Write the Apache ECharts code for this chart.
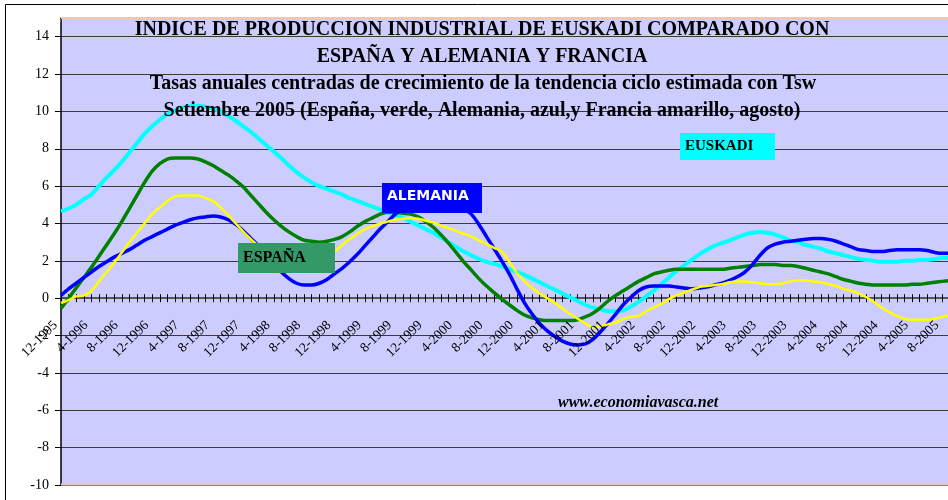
<!DOCTYPE html>
<html><head><meta charset="utf-8">
<script src="https://cdn.jsdelivr.net/npm/echarts@6/dist/echarts.min.js"></script>
<style>html,body{margin:0;padding:0;background:#fff}#c{width:948px;height:500px}</style>
</head><body><div id="c"></div>
<script>
const categories = ["12-1995",
"1-1996","2-1996","3-1996","4-1996","5-1996","6-1996","7-1996","8-1996","9-1996","10-1996","11-1996","12-1996",
"1-1997","2-1997","3-1997","4-1997","5-1997","6-1997","7-1997","8-1997","9-1997","10-1997","11-1997","12-1997",
"1-1998","2-1998","3-1998","4-1998","5-1998","6-1998","7-1998","8-1998","9-1998","10-1998","11-1998","12-1998",
"1-1999","2-1999","3-1999","4-1999","5-1999","6-1999","7-1999","8-1999","9-1999","10-1999","11-1999","12-1999",
"1-2000","2-2000","3-2000","4-2000","5-2000","6-2000","7-2000","8-2000","9-2000","10-2000","11-2000","12-2000",
"1-2001","2-2001","3-2001","4-2001","5-2001","6-2001","7-2001","8-2001","9-2001","10-2001","11-2001","12-2001",
"1-2002","2-2002","3-2002","4-2002","5-2002","6-2002","7-2002","8-2002","9-2002","10-2002","11-2002","12-2002",
"1-2003","2-2003","3-2003","4-2003","5-2003","6-2003","7-2003","8-2003","9-2003","10-2003","11-2003","12-2003",
"1-2004","2-2004","3-2004","4-2004","5-2004","6-2004","7-2004","8-2004","9-2004","10-2004","11-2004","12-2004",
"1-2005","2-2005","3-2005","4-2005","5-2005","6-2005","7-2005","8-2005","9-2005"];

const yTicks = [-10,-8,-6,-4,-2,0,2,4,6,8,10,12,14];
const yMin = -10, yMax = 15, yStep = 2;
const labelEvery = 4;

const euskadi = [4.65,4.8,5.0,5.3,5.55,6.0,6.45,6.85,7.3,7.8,
8.3,8.8,9.2,9.55,9.85,10.05,10.2,10.3,10.3,10.25,
10.15,10.0,9.75,9.5,9.2,8.9,8.55,8.2,7.85,7.5,
7.1,6.75,6.45,6.2,6.0,5.85,5.7,5.55,5.35,5.2,
5.05,4.9,4.75,4.6,4.45,4.3,4.1,3.9,3.7,3.5,
3.25,3.0,2.75,2.5,2.3,2.1,1.95,1.85,1.7,1.55,
1.4,1.25,1.05,0.85,0.65,0.45,0.25,0.05,-0.15,-0.35,
-0.5,-0.6,-0.7,-0.7,-0.65,-0.45,-0.2,0.1,0.4,0.75,
1.1,1.45,1.75,2.05,2.35,2.6,2.8,2.95,3.1,3.25,
3.4,3.5,3.55,3.5,3.4,3.25,3.1,3.0,2.85,2.75,
2.65,2.5,2.4,2.3,2.2,2.1,2.05,2.0,1.95,1.95,
1.95,2.0,2.0,2.05,2.05,2.1,2.15,2.15];

const espana = [-0.55,0.0,0.55,1.1,1.65,2.25,2.85,3.45,4.1,4.8,
5.5,6.2,6.8,7.2,7.45,7.5,7.5,7.5,7.45,7.3,
7.1,6.85,6.6,6.3,5.95,5.5,5.05,4.6,4.2,3.85,
3.55,3.3,3.1,3.05,3.0,3.05,3.15,3.3,3.55,3.85,
4.1,4.3,4.5,4.6,4.6,4.55,4.5,4.35,4.1,3.8,
3.4,2.95,2.45,1.95,1.5,1.05,0.65,0.3,-0.05,-0.35,
-0.65,-0.9,-1.05,-1.15,-1.2,-1.2,-1.2,-1.2,-1.15,-1.0,
-0.8,-0.5,-0.15,0.15,0.4,0.65,0.9,1.1,1.3,1.4,
1.5,1.55,1.55,1.55,1.55,1.55,1.55,1.55,1.6,1.65,
1.7,1.75,1.8,1.8,1.8,1.75,1.75,1.7,1.6,1.5,
1.4,1.3,1.15,1.0,0.9,0.8,0.75,0.7,0.7,0.7,
0.7,0.7,0.75,0.75,0.8,0.85,0.9,0.95];

const alemania = [0.15,0.5,0.8,1.1,1.4,1.7,1.95,2.2,2.4,2.6,
2.85,3.1,3.3,3.5,3.7,3.9,4.05,4.2,4.3,4.35,
4.4,4.35,4.2,3.95,3.6,3.2,2.8,2.3,1.85,1.4,
1.05,0.8,0.7,0.7,0.8,1.0,1.3,1.6,1.95,2.35,
2.8,3.25,3.7,4.1,4.5,4.8,5.0,5.15,5.25,5.3,
5.3,5.2,5.05,4.8,4.5,3.95,3.3,2.65,2.0,1.3,
0.5,-0.25,-0.85,-1.35,-1.75,-2.05,-2.3,-2.45,-2.5,-2.45,
-2.2,-1.8,-1.35,-0.85,-0.35,0.05,0.4,0.6,0.65,0.65,
0.65,0.6,0.55,0.5,0.55,0.6,0.7,0.8,0.95,1.15,
1.4,1.8,2.3,2.7,2.9,3.0,3.05,3.1,3.15,3.2,
3.2,3.15,3.05,2.9,2.75,2.6,2.55,2.5,2.5,2.55,
2.6,2.6,2.6,2.6,2.55,2.45,2.4,2.4];

const francia = [-0.25,-0.1,0.1,0.15,0.4,0.9,1.4,1.9,2.45,3.0,
3.5,4.0,4.5,4.85,5.2,5.45,5.5,5.5,5.5,5.35,
5.2,4.85,4.45,4.0,3.55,3.15,2.8,2.5,2.25,2.05,
1.95,1.9,1.95,2.05,2.2,2.4,2.5,2.85,3.15,3.45,
3.7,3.85,4.0,4.1,4.2,4.25,4.3,4.25,4.15,4.05,
3.9,3.75,3.6,3.45,3.3,3.1,2.9,2.7,2.5,1.95,
1.35,0.9,0.55,0.25,0.0,-0.25,-0.55,-0.85,-1.1,-1.35,
-1.55,-1.5,-1.4,-1.3,-1.1,-1.0,-0.95,-0.7,-0.5,-0.3,
-0.05,0.15,0.3,0.45,0.6,0.65,0.7,0.75,0.85,0.9,
0.9,0.85,0.8,0.75,0.75,0.8,0.9,0.95,0.95,0.9,
0.85,0.75,0.65,0.5,0.4,0.25,0.05,-0.2,-0.5,-0.75,
-0.95,-1.1,-1.15,-1.15,-1.15,-1.1,-1.0,-0.9];

const titleLines = [
  "INDICE DE PRODUCCION INDUSTRIAL DE EUSKADI COMPARADO CON",
  "ESPAÑA Y ALEMANIA Y FRANCIA",
  "Tasas anuales centradas de crecimiento de la tendencia ciclo estimada con Tsw",
  "Setiembre 2005 (España, verde, Alemania, azul,y Francia amarillo, agosto)"
];

const serifFont = "'Liberation Serif','Times New Roman',serif";
const chart = echarts.init(document.getElementById('c'));

// grid geometry (layout only)
const gTop = 18, gBottomPx = 485, H = 500;
const zeroY = gTop + (gBottomPx - gTop) * (yMax - 0) / (yMax - yMin);

function txt(text, x, y, font, fill, z) {
  return {type:'text', z: z || 60, style:{text:text, x:x, y:y, font:font, fill:fill,
    textAlign:'center', textVerticalAlign:'middle', align:'center', verticalAlign:'middle'}};
}

const graphics = [
  {type:'rect', z:100, shape:{x:5.5, y:4.5, width:1000, height:600}, style:{fill:null, stroke:'#000', lineWidth:1}},
  {type:'rect', z:100, shape:{x:44, y:8, width:16.2, height:14}, style:{fill:'#fff'}},
  {type:'line', z:100, shape:{x1:61, y1:18, x2:950, y2:18}, style:{stroke:'#F5C89A', lineWidth:2}},
  {type:'line', z:100, shape:{x1:61, y1:484.5, x2:950, y2:484.5}, style:{stroke:'#E9C2B0', lineWidth:2}},
  txt(titleLines[0], 482, 30, 'bold 20px ' + serifFont, '#000'),
  txt(titleLines[1], 482, 57, 'bold 20px ' + serifFont, '#000'),
  txt(titleLines[2], 483, 84, 'bold 20px ' + serifFont, '#000'),
  txt(titleLines[3], 482, 111, 'bold 20px ' + serifFont, '#000'),
  {type:'rect', z:60, shape:{x:680, y:133, width:95, height:27}, style:{fill:'#00FFFF'}},
  {type:'text', z:61, style:{text:'EUSKADI', x:685, y:146, font:'bold 15px ' + serifFont, fill:'#000', textVerticalAlign:'middle', verticalAlign:'middle'}},
  {type:'rect', z:60, shape:{x:382, y:183, width:100, height:30}, style:{fill:'#0000FF'}},
  {type:'text', z:61, style:{text:'ALEMANIA', x:387, y:196, font:"bold 14px 'DejaVu Sans',Arial,sans-serif", fill:'#fff', textVerticalAlign:'middle', verticalAlign:'middle'}},
  {type:'rect', z:60, shape:{x:238, y:243, width:97, height:30}, style:{fill:'#339966'}},
  {type:'text', z:61, style:{text:'ESPAÑA', x:243, y:258, font:'bold 16px ' + serifFont, fill:'#000', textVerticalAlign:'middle', verticalAlign:'middle'}},
  {type:'text', z:61, style:{text:'www.economiavasca.net', x:558, y:403, font:'italic bold 16px ' + serifFont, fill:'#000', textVerticalAlign:'middle', verticalAlign:'middle'}}
];

function line(name, data, color, width) {
  return {name:name, type:'line', data:data, showSymbol:false, symbol:'none', smooth:0.3,
    lineStyle:{color:color, width:width}, itemStyle:{color:color}, z:3};
}

chart.setOption({
  animation:false,
  backgroundColor:'#fff',
  grid:{left:61, top:gTop, right:-2, bottom:H - gBottomPx, show:true, backgroundColor:'#CCCCFF', borderWidth:0,
        outerBoundsMode:'none', containLabel:false},
  xAxis:[{
    type:'category', data:categories, boundaryGap:false, position:'bottom',
    offset: -(gBottomPx - zeroY),
    axisLine:{show:true, onZero:false, lineStyle:{color:'#555', width:2}},
    axisTick:{show:true, interval:0, length:4, lineStyle:{color:'#000', width:1}},
    axisLabel:{show:false},
    splitLine:{show:false}
  },{
    type:'category', data:categories, boundaryGap:false, position:'top',
    offset: -(zeroY - gTop),
    axisLine:{show:true, onZero:false, lineStyle:{color:'#555', width:2}},
    axisTick:{show:true, interval:0, length:4, lineStyle:{color:'#000', width:1}},
    axisLabel:{show:false}, splitLine:{show:false}
  }],
  yAxis:{
    type:'value', min:yMin, max:yMax, interval:yStep,
    axisLine:{show:true, onZero:false, lineStyle:{color:'#000', width:1.5}},
    axisTick:{show:true, length:6, lineStyle:{color:'#000'}},
    axisLabel:{fontFamily:'Liberation Serif', fontSize:14, color:'#000', margin:12,
      formatter: function(v){ return yTicks.indexOf(v) >= 0 ? String(v) : ''; }},
    splitLine:{show:true, lineStyle:{color:'#3a3a3a', width:1}}
  },
  graphic: graphics,
  series:[
    line('EUSKADI', euskadi, '#00FFFF', 4),
    line('ESPAÑA', espana, '#008000', 3.5),
    line('ALEMANIA', alemania, '#0000FF', 3.5),
    line('FRANCIA', francia, '#FFFF00', 2.5)
  ]
});

// Category tick labels placed at the axis' own tick positions (rotated 45°)
const labelEls = [];
for (let i = 0; i < categories.length; i += labelEvery) {
  const p = chart.convertToPixel({xAxisIndex:0, yAxisIndex:0}, [i, 0]);
  labelEls.push({type:'text', z:70, x: p[0] - 5.5, y: p[1] + 25, rotation: Math.PI / 4,
    style:{text: categories[i], x:0, y:0, font:'13.5px ' + serifFont, fill:'#000',
      textAlign:'right', textVerticalAlign:'middle', align:'right', verticalAlign:'middle'}});
}
chart.setOption({graphic: graphics.concat(labelEls)});
</script></body></html>
